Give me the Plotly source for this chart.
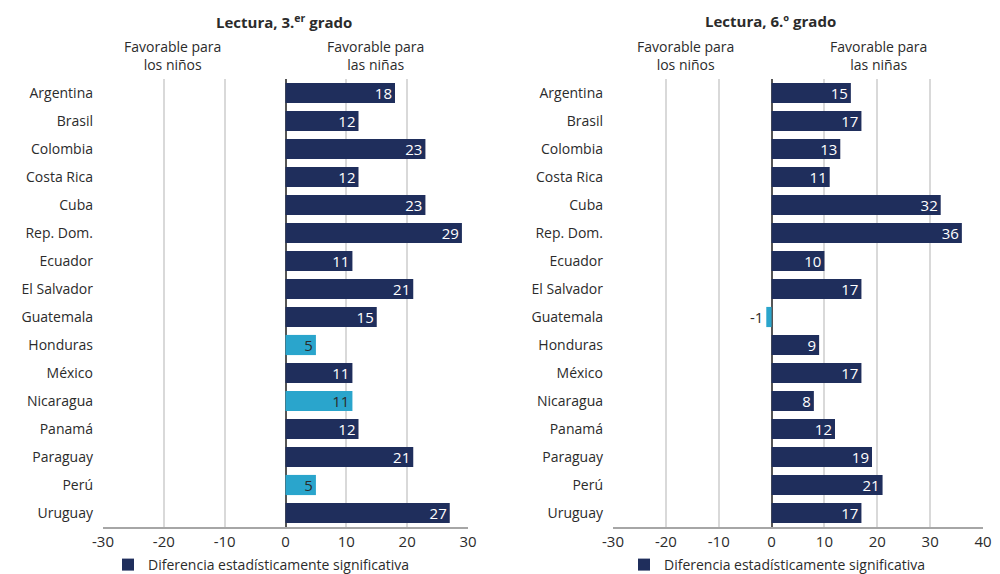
import plotly.graph_objects as go

countries = ["Argentina", "Brasil", "Colombia", "Costa Rica", "Cuba", "Rep. Dom.", "Ecuador",
             "El Salvador", "Guatemala", "Honduras", "México", "Nicaragua", "Panamá",
             "Paraguay", "Perú", "Uruguay"]
grado3 = [18, 12, 23, 12, 23, 29, 11, 21, 15, 5, 11, 11, 12, 21, 5, 27]
sig3 = [True, True, True, True, True, True, True, True, True, False, True, False, True, True, False, True]
grado6 = [15, 17, 13, 11, 32, 36, 10, 17, -1, 9, 17, 8, 12, 19, 21, 17]
sig6 = [True, True, True, True, True, True, True, True, False, True, True, True, True, True, True, True]
x3_ticks = [-30, -20, -10, 0, 10, 20, 30]
x6_ticks = [-30, -20, -10, 0, 10, 20, 30, 40]

DARK = "#1f2e5c"
LIGHT = "#2aa5cc"
TXT = "#2b2b2b"
FONT = "Open Sans"
LEG = "Diferencia estadísticamente significativa"

OFF = 8  # browser body margin
W, H = 1000 - OFF, 574 - OFF
def px(x): return (x - OFF) / W
def py(y): return 1 - (y - OFF) / H

fig = go.Figure()

def add_panel(vals, sig, xa, ya, legend):
    sx = [c for c, s in zip(countries, sig) if s]
    sv = [v for v, s in zip(vals, sig) if s]
    nx = [c for c, s in zip(countries, sig) if not s]
    nv = [v for v, s in zip(vals, sig) if not s]
    fig.add_trace(go.Bar(
        x=sv, y=sx, orientation="h", xaxis=xa, yaxis=ya, name=LEG,
        marker=dict(color=DARK, line=dict(width=0)), width=0.72,
        text=[str(v) for v in sv], textposition="inside", insidetextanchor="end",
        textangle=0,
        textfont=dict(color="white", size=15, family=FONT), constraintext="none",
        showlegend=True, legend=legend, cliponaxis=False))
    if nv:
        pos = ["inside" if v >= 3 else "outside" for v in nv]
        fig.add_trace(go.Bar(
            x=nv, y=nx, orientation="h", xaxis=xa, yaxis=ya, name="ns",
            marker=dict(color=LIGHT, line=dict(width=0)), width=0.72,
            text=[str(v) for v in nv], textposition=pos, insidetextanchor="end",
            textangle=0,
            textfont=dict(color=TXT, size=15, family=FONT), constraintext="none",
            showlegend=False, cliponaxis=False))

add_panel(grado3, sig3, "x", "y", "legend")
add_panel(grado6, sig6, "x2", "y2", "legend2")

ydom = [py(527), py(79)]
xcommon = dict(showgrid=True, gridcolor="#d9d9d9", gridwidth=1.5, zeroline=True,
               zerolinecolor="#555555", zerolinewidth=1.5, showline=True, linecolor="#a6a6a6",
               linewidth=1.5, ticks="", tickfont=dict(size=15, color=TXT, family=FONT),
               fixedrange=True, automargin=False)
ycommon = dict(categoryorder="array", categoryarray=countries, autorange="reversed",
               showgrid=False, zeroline=False, showline=False, ticks="",
               tickfont=dict(size=14, color=TXT, family=FONT), ticklabelstandoff=9,
               automargin=False)

fig.update_layout(
    width=W, height=H, margin=dict(l=0, r=0, t=0, b=0, autoexpand=False),
    paper_bgcolor="white", plot_bgcolor="white", barmode="overlay",
    font=dict(family=FONT, color=TXT),
    xaxis=dict(domain=[px(103), px(468)], range=[-30, 30], tickvals=x3_ticks,
               ticktext=[str(t) for t in x3_ticks], anchor="y", **xcommon),
    yaxis=dict(domain=ydom, anchor="x", **ycommon),
    xaxis2=dict(domain=[px(613), px(983)], range=[-30, 40], tickvals=x6_ticks,
                ticktext=[str(t) for t in x6_ticks], anchor="y2", **xcommon),
    yaxis2=dict(domain=ydom, anchor="x2", **ycommon),
    legend=dict(orientation="h", x=px(108), xanchor="left", y=py(565), yanchor="middle",
                font=dict(size=14, color=TXT, family=FONT), bgcolor="rgba(0,0,0,0)",
                itemwidth=30, tracegroupgap=0),
    legend2=dict(orientation="h", x=px(624), xanchor="left", y=py(565), yanchor="middle",
                 font=dict(size=14, color=TXT, family=FONT), bgcolor="rgba(0,0,0,0)",
                 itemwidth=30, tracegroupgap=0),
    bargap=0.28,
)

annots = [
    dict(text="<b>Lectura, 3.<sup>er</sup> grado</b>", x=px(284), y=py(21), size=15),
    dict(text="<b>Lectura, 6.º grado</b>", x=px(770), y=py(21), size=15),
    dict(text="Favorable para<br>los niños", x=px(172), y=py(55), size=14),
    dict(text="Favorable para<br>las niñas", x=px(375), y=py(55), size=14),
    dict(text="Favorable para<br>los niños", x=px(685), y=py(55), size=14),
    dict(text="Favorable para<br>las niñas", x=px(878), y=py(55), size=14),
]
for a in annots:
    fig.add_annotation(text=a["text"], x=a["x"], y=a["y"], xref="paper", yref="paper",
                       xanchor="center", yanchor="middle", showarrow=False,
                       font=dict(size=a["size"], color=TXT, family=FONT))

fig.write_html("out.html")
